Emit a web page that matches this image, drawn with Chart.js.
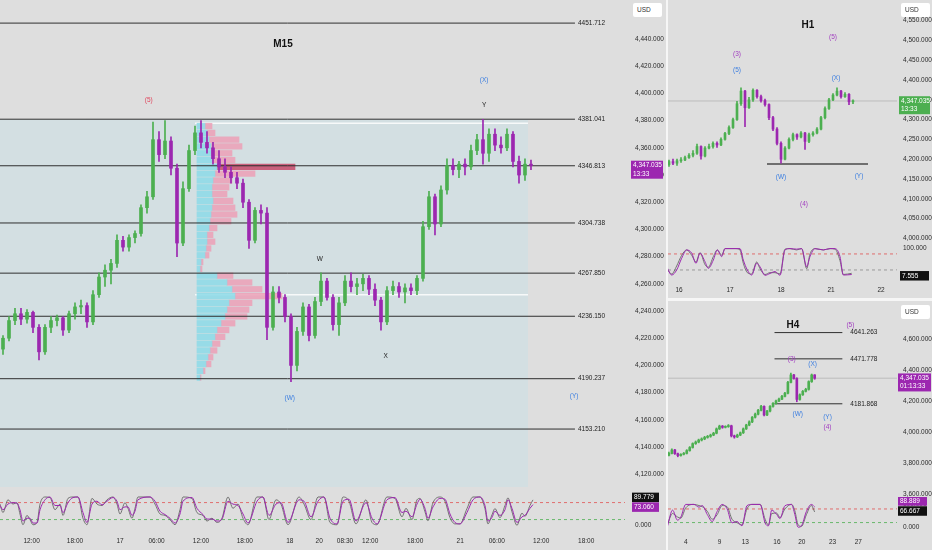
<!DOCTYPE html>
<html>
<head>
<meta charset="utf-8">
<title>XAUUSD M15 / H1 / H4</title>
<script src="https://cdn.jsdelivr.net/npm/chart.js@4.4.1/dist/chart.umd.min.js"></script>
<style>
  html, body { margin: 0; padding: 0; }
  body { width: 932px; height: 550px; background: #f6f6f6; position: relative; overflow: hidden;
         font-family: "Liberation Sans", Arial, sans-serif; }
  .panel { position: absolute; background: #dedede; }
  .chart { position: absolute; }
  .usd { position: absolute; width: 29px; height: 14px; line-height: 14px; background: #fff;
         border-radius: 2px; font-size: 6.5px; color: #333; padding-left: 4px; box-sizing: border-box; }
  .title { position: absolute; font-size: 10px; font-weight: bold; color: #111; transform: translate(-50%, -50%); }
</style>
</head>
<body>
<div class="panel" style="left:0;top:0;width:666px;height:550px"></div>
<div class="panel" style="left:668px;top:0;width:264px;height:298px"></div>
<div class="panel" style="left:668px;top:301px;width:264px;height:249px"></div>

<div class="chart" style="left:0;top:0;width:667px;height:487px"><canvas id="m15Price"></canvas></div>
<div class="chart" style="left:0;top:487px;width:667px;height:63px"><canvas id="m15Stoch"></canvas></div>
<div class="chart" style="left:668px;top:0;width:264px;height:243px"><canvas id="h1Price"></canvas></div>
<div class="chart" style="left:668px;top:243px;width:264px;height:55px"><canvas id="h1Stoch"></canvas></div>
<div class="chart" style="left:668px;top:301px;width:264px;height:196px"><canvas id="h4Price"></canvas></div>
<div class="chart" style="left:668px;top:497px;width:264px;height:53px"><canvas id="h4Stoch"></canvas></div>

<div class="title" style="left:283px;top:43px">M15</div>
<div class="title" style="left:808px;top:24px">H1</div>
<div class="title" style="left:793px;top:324px">H4</div>
<div class="usd" style="left:633px;top:3px">USD</div>
<div class="usd" style="left:901px;top:3px">USD</div>
<div class="usd" style="left:901px;top:305px">USD</div>

<script>
// ---------- M15 (main) ----------
const m15Open  = [4212,4220,4233,4238,4234,4239,4228,4210,4228,4233,4235,4226,4238,4243,4244,4232,4252,4265,4270,4275,4292,4287,4294,4297,4316,4324,4366,4355,4365,4345,4290,4330,4358,4371,4364,4360,4352,4346,4342,4338,4334,4320,4292,4314,4312,4228,4254,4250,4236,4200,4225,4243,4222,4247,4262,4250,4230,4246,4262,4258,4260,4264,4256,4248,4232,4255,4258,4254,4257,4255,4264,4302,4324,4304,4329,4347,4344,4348,4346,4358,4366,4356,4370,4362,4360,4370,4350,4340,4348];
const m15High  = [4222,4236,4242,4242,4241,4240,4230,4230,4236,4237,4236,4240,4246,4248,4246,4255,4268,4274,4278,4296,4295,4296,4299,4318,4328,4379,4372,4380,4368,4348,4335,4362,4376,4380,4372,4364,4358,4352,4346,4342,4337,4322,4316,4318,4316,4258,4258,4252,4238,4228,4246,4245,4250,4268,4264,4252,4250,4266,4268,4264,4267,4266,4260,4250,4258,4262,4261,4260,4260,4266,4306,4328,4326,4332,4352,4352,4350,4352,4362,4370,4381,4374,4374,4368,4374,4372,4354,4352,4351];
const m15Low   = [4208,4218,4230,4230,4231,4224,4204,4208,4224,4229,4222,4224,4234,4238,4228,4230,4250,4258,4260,4272,4284,4284,4290,4295,4312,4322,4350,4352,4340,4280,4288,4328,4355,4360,4356,4348,4342,4338,4334,4330,4316,4286,4290,4304,4219,4226,4246,4232,4188,4196,4222,4218,4220,4244,4248,4226,4222,4244,4254,4252,4255,4252,4244,4226,4230,4252,4250,4246,4252,4252,4262,4300,4296,4302,4326,4340,4338,4340,4344,4355,4348,4350,4358,4356,4358,4346,4334,4336,4344];
const m15Close = [4220,4233,4238,4234,4239,4228,4210,4228,4233,4235,4226,4238,4243,4244,4232,4252,4265,4270,4275,4292,4287,4294,4297,4316,4324,4366,4355,4365,4345,4290,4330,4358,4371,4364,4360,4352,4346,4342,4338,4334,4320,4292,4314,4312,4228,4254,4250,4236,4200,4225,4243,4222,4247,4262,4250,4230,4246,4262,4258,4260,4264,4256,4248,4232,4255,4258,4254,4257,4255,4264,4302,4324,4304,4329,4347,4344,4348,4346,4358,4366,4356,4370,4362,4360,4370,4350,4340,4348,4347];

const m15Levels = [4451.712, 4381.041, 4346.813, 4304.738, 4267.850, 4236.150, 4190.237, 4153.210];
const m15PriceTicks = [4120,4140,4160,4180,4200,4220,4240,4260,4280,4300,4320,4340,4360,4380,4400,4420,4440];
const m15TimeIdx = [4.77,12,19.5,25.6,33,40.3,47.8,52.7,57,61.2,68.7,76.2,82.3,89.7,97.2];
const m15TimeLabels = ['12:00','18:00','17','06:00','12:00','18:00','18','20','08:30','12:00','18:00','21','06:00','12:00','18:00'];

// range box and its volume profile
const rangeStart = -0.5, rangeEnd = 87.5, rangeTop = 4381.041;
const vaStart = 32, vaHigh = 4378, vaLow = 4252;
const vpPrice = [4376,4371,4366,4361,4356,4351,4346,4341,4336,4331,4326,4321,4316,4311,4306,4301,4296,4291,4286,4281,4276,4271,4266,4261,4256,4251,4246,4241,4236,4231,4226,4221,4216,4211,4206,4201,4196,4191];
const vpUp   = [8,10,12,14,14,15,20,18,16,15,15,16,15,14,13,12,10,10,9,8,4,3,20,30,35,38,32,30,28,24,20,18,15,13,11,9,6,3];
const vpDown = [7,8,30,31,21,23,78,40,19,17,15,20,23,26,21,8,6,8,5,4,2,2,16,25,30,47,23,22,22,14,12,10,8,7,5,5,2,1];

const m15WaveText  = ['(5)','(X)','Y','W','X','(W)','(Y)'];
const m15WaveIdx   = [24.3,80.2,80.2,52.8,63.8,47.8,95.2];
const m15WavePrice = [4395,4410,4391,4278,4207,4176,4177];
const m15WaveDeg   = ['cycle','intermediate','minor','minor','minor','intermediate','intermediate'];

const m15StochIdx = [-0.5,0,0.83,1.67,2.33,2.83,3.33,4,4.5,5,5.67,6.17,7,7.83,8.67,9.5,10,10.83,11.67,12.5,13.33,14,14.83,15.67,16.5,17.33,18.33,19,19.5,20.33,20.83,21.5,22,22.5,24.5,25.33,26.17,27,27.83,28.67,29.5,30,31.5,32.33,33.33,34,34.83,35.67,36.5,37.5,38.33,39.17,40,40.83,42.33,43.33,44.33,45.5,46.33,47.5,49.33,50.17,51.33,52.5,53.5,54.5,55.67,56.67,57.67,58.83,60.5,61.5,62.33,64,65.33,66.5,67.17,68.17,69,69.5,70.33,70.83,71.67,72.83,73.67,74.5,75.33,76.17,77.33,78.33,79.5,80.33,80.83,81.5,82,82.83,83.67,84.17,84.83,85.67,86.5,87,87.83,88.33];
const m15StochK = [75,45,90,75,80,40,2,35,20,2, 10,75,100,98,55,75,35,95,100,100, 25,2,95,75,70,90,100,75,40,80, 60,25,60,100,100,75,40,35,20,2, 55,100,95,45,35,15,25,10,25,100, 60,75,25,2,100,100,20,90,75,2, 100,75,20,100,100,10,2,100,85,5, 90,10,2,100,95,30,60,20,90,95, 48,16,80,100,85,27,5,5,59,100, 100,59,5,37,59,27,70,97,48,0, 43,32,70,89.779];
const m15StochD = [70,55,75,80,78,55,15,25,25,8, 8,55,90,100,70,70,45,80,98,100, 45,10,75,85,72,85,98,85,55,65, 65,35,50,90,100,85,50,38,25,8, 40,85,98,60,38,22,22,15,22,85, 75,70,40,8,85,100,35,75,80,10, 90,85,30,85,100,25,5,85,92,15, 80,25,5,90,98,45,50,30,75,92, 60,25,65,95,92,40,10,5,45,90, 100,70,15,28,50,35,55,90,60,10, 30,35,60,73.06];

// ---------- H1 ----------
const h1Open  = [4186,4194,4190,4196,4198,4204,4210,4215,4232,4208,4228,4232,4240,4236,4250,4265,4280,4300,4340,4372,4330,4350,4374,4358,4348,4338,4305,4276,4240,4200,4228,4250,4262,4256,4266,4245,4262,4266,4276,4305,4328,4350,4362,4372,4358,4364,4345];
const h1High  = [4198,4200,4200,4204,4208,4214,4222,4238,4234,4232,4238,4244,4244,4254,4268,4284,4304,4346,4380,4374,4356,4378,4376,4362,4352,4340,4308,4280,4244,4232,4254,4266,4264,4270,4268,4266,4270,4280,4308,4332,4354,4366,4380,4374,4368,4366,4350];
const h1Low   = [4182,4186,4184,4192,4196,4202,4206,4212,4200,4206,4226,4228,4230,4234,4248,4262,4278,4298,4336,4282,4328,4346,4354,4344,4334,4300,4272,4236,4190,4198,4226,4246,4250,4254,4225,4242,4258,4264,4274,4302,4326,4348,4360,4354,4356,4338,4340];
const h1Close = [4194,4190,4196,4198,4204,4210,4215,4232,4208,4228,4232,4240,4236,4250,4265,4280,4300,4340,4372,4330,4350,4374,4358,4348,4338,4305,4276,4240,4200,4228,4250,4262,4256,4266,4245,4262,4266,4276,4305,4328,4350,4362,4372,4358,4364,4345,4347];
const h1PriceTicks = [4000,4050,4100,4150,4200,4250,4300,4350,4400,4450,4500,4550];
const h1TimeIdx = [2.5,15.25,28,40.5,53];
const h1TimeLabels = ['16','17','18','21','22'];
const h1Support = 4188, h1SupportFrom = 24.5, h1SupportTo = 49.75;
const h1WaveText  = ['(3)','(5)','(5)','(X)','(W)','(Y)','(4)'];
const h1WaveIdx   = [17,17,41,41.75,28,47.5,33.75];
const h1WavePrice = [4466,4425,4509,4405,4155,4158,4087];
const h1WaveDeg   = ['primary','intermediate','primary','intermediate','intermediate','intermediate','primary'];
const h1StochIdx = [-0.58,0.67,1.92,3.17,4.42,5.67,6.75,7.75,9,9.83,11.08,12.08,13.17,14,15.25,16.5,17.75,18.58,19.58,20.67,21.92,22.75,24,25.25,26.5,27.75,29,30.25,31.92,33.17,34.42,35.25,36.5,38.58,40.25,41.5,42.75,43.58,45.67];
const h1StochK = [25,5,35,75,95,75,50,85,40,30,70,95,75,100,100,100,95,45,10,5,50,25,3,10,10,5,98,100,95,100,25,80,100,95,100,98,55,3,7.555];
const h1StochD = [32,1,20,64,95,83,45,83,51,26,57,95,70,100,100,100,100,57,20,1,45,32,0,7,14,0,95,100,98,100,32,70,100,95,100,100,70,1,3];

// ---------- H4 ----------
const h4Open  = [3850,3862,3884,3860,3848,3856,3862,3880,3900,3925,3935,3948,3955,3965,3972,3980,3992,4020,4038,4030,4035,4040,3975,3968,3980,3995,4020,4045,4065,4095,4115,4140,4165,4110,4135,4165,4185,4200,4212,4230,4250,4320,4368,4345,4210,4240,4262,4275,4325,4368];
const h4High  = [3870,3892,3888,3864,3860,3868,3886,3906,3930,3942,3954,3962,3972,3978,3986,3998,4026,4044,4042,4040,4048,4044,3980,3986,4000,4026,4050,4072,4100,4122,4146,4172,4168,4140,4170,4190,4206,4218,4236,4256,4326,4380,4372,4350,4246,4268,4282,4330,4374,4370];
const h4Low   = [3845,3858,3855,3840,3844,3852,3858,3876,3896,3920,3930,3942,3950,3960,3966,3976,3988,4016,4024,4026,4030,3968,3960,3964,3976,3990,4016,4040,4060,4090,4110,4136,4104,4106,4130,4160,4180,4196,4208,4226,4246,4316,4340,4195,4205,4236,4258,4270,4320,4340];
const h4Close = [3862,3884,3860,3848,3856,3862,3880,3900,3925,3935,3948,3955,3965,3972,3980,3992,4020,4038,4030,4035,4040,3975,3968,3980,3995,4020,4045,4065,4095,4115,4140,4165,4110,4135,4165,4185,4200,4212,4230,4250,4320,4368,4345,4210,4240,4262,4275,4325,4368,4347];
const h4Levels = [4641.263, 4471.778, 4181.868];
const h4LevelFrom = 35.5, h4LevelTo = 58.3;
const h4PriceTicks = [3600,3800,4000,4200,4400,4600];
const h4TimeIdx = [5.67,17,25.67,36.33,44.67,55,63.67];
const h4TimeLabels = ['4','9','13','16','20','23','27'];
const h4WaveText  = ['(5)','(3)','(X)','(W)','(Y)','(4)'];
const h4WaveIdx   = [61,41.3,48.3,43.3,53.3,53.3];
const h4WavePrice = [4690,4471,4439,4116,4097,4032];
const h4WaveDeg   = ['primary','primary','intermediate','intermediate','intermediate','primary'];
const h4StochIdx = [-0.44,1.22,2.89,4,5.67,8.44,10.11,11.22,12.89,14.56,16.22,17.89,19.56,21.22,22.89,24.56,26.22,27.89,30.67,32.33,33.44,34.56,36.22,37.33,39,41.22,42.33,43.44,44.56,46.22,47.89,49];
const h4StochK = [15,60,45,40,85,100,95,90,70,35,55,95,90,35,20,10,80,100,100,35,10,60,62,42,80,100,72,10,4,55,95,66.667];
const h4StochD = [6,75,31,44,100,100,88,95,56,25,69,100,81,19,25,6,94,100,100,19,6,75,56,38,94,100,56,0,6,69,100,88.889];

const lastPrice = 4347.035;
const m15Countdown = '13:33', h1Countdown = '13:33', h4Countdown = '01:13:33';

// ---------- styling ----------
const UP = '#4caf50', DOWN = '#9c27b0', PURPLE = '#9c27b0';
const degColor = { cycle: '#e0485e', primary: '#a23fc0', intermediate: '#3d7fe0', minor: '#222' };
const FONT = '"Liberation Sans", Arial, sans-serif';

Chart.defaults.font.family = FONT;
Chart.defaults.font.size = 6.5;
Chart.defaults.color = '#2a2a2a';
Chart.defaults.animation = false;
Chart.defaults.events = [];
Chart.defaults.plugins.legend.display = false;
Chart.defaults.plugins.tooltip.enabled = false;

const fmt3 = v => v.toLocaleString('en-US', { minimumFractionDigits: 3, maximumFractionDigits: 3 });

function valueAxis(min, max, ticks, width, pad) {
  return {
    type: 'linear', position: 'right', min, max, offset: false,
    grid: { display: false, drawTicks: false }, border: { display: false },
    afterBuildTicks: s => { s.ticks = ticks.map(v => ({ value: v })); },
    afterFit: s => { s.width = width; s.paddingTop = 0; s.paddingBottom = 0; },
    ticks: { padding: pad, callback: v => fmt3(v) }
  };
}

function timeAxis(min, max, idx, labels, height, pad) {
  return {
    type: 'linear', min, max, offset: false, display: !!height,
    grid: { display: false, drawTicks: false }, border: { display: false },
    afterBuildTicks: s => { s.ticks = idx.map(v => ({ value: v })); },
    afterFit: s => { if (height) s.height = height; s.paddingLeft = 0; s.paddingRight = 0; },
    ticks: { padding: pad || 0, maxRotation: 0, autoSkip: false, callback: (v, i) => labels[i] }
  };
}

function candles(open, high, low, close, body) {
  const col = close.map((c, i) => c >= open[i] ? UP : DOWN);
  return [
    { type: 'bar', data: close.map((c, i) => ({ x: i, y: [low[i], high[i]] })),
      backgroundColor: col, barThickness: 1, grouped: false, order: 2 },
    { type: 'bar', data: close.map((c, i) => ({ x: i, y: [open[i], c] })),
      backgroundColor: col, barThickness: body, minBarLength: 1, grouped: false, order: 1 }
  ];
}

function hLine(value, from, to, color, width, dash, order) {
  return { type: 'line', data: [{ x: from, y: value }, { x: to, y: value }],
    borderColor: color, borderWidth: width, borderDash: dash || [], pointRadius: 0, fill: false, order };
}

function stochLine(idx, vals, color, width, order) {
  return { type: 'line', data: idx.map((x, i) => ({ x, y: vals[i] })), borderColor: color,
    borderWidth: width, pointRadius: 0, fill: false, cubicInterpolationMode: 'monotone', order };
}

function notesPlugin(items) {
  return {
    id: 'notes',
    afterDatasetsDraw(chart) {
      const { ctx, scales } = chart;
      ctx.save();
      ctx.textBaseline = 'middle';
      items.forEach(n => {
        ctx.font = (n.size || 6.5) + 'px ' + FONT;
        ctx.fillStyle = n.color;
        ctx.textAlign = n.align || 'center';
        ctx.fillText(n.text, scales.x.getPixelForValue(n.x) + (n.dx || 0), scales.y.getPixelForValue(n.y));
      });
      ctx.restore();
    }
  };
}

function tagsPlugin(items) {
  return {
    id: 'tags',
    afterDraw(chart) {
      const { ctx, chartArea, scales } = chart;
      ctx.save();
      ctx.font = '6.5px ' + FONT;
      ctx.textBaseline = 'middle';
      ctx.textAlign = 'left';
      items.forEach(t => {
        const py = scales.y.getPixelForValue(t.value) + (t.dy || 0);
        const lh = 8.5;
        const h = t.lines.length * lh + 1;
        const top = t.lines.length > 1 ? py - lh / 2 - 0.5 : py - h / 2;
        const left = chartArea.right + t.dx;
        ctx.fillStyle = t.bg;
        ctx.fillRect(left, top, t.w, h);
        ctx.fillStyle = '#fff';
        t.lines.forEach((s, i) => ctx.fillText(s, left + 2, top + 0.5 + lh / 2 + i * lh));
      });
      ctx.restore();
    }
  };
}

function waveNotes(text, idx, price, deg) {
  return text.map((t, i) => ({ text: t, x: idx[i], y: price[i], color: degColor[deg[i]] }));
}

// ---------- M15 price ----------
const M15_MIN = -0.5, M15_MAX = 103.67, M15_LEVEL_END = 95.33;
const VP_LEFT = 197, M15_PLOT_W = 625;
const pocIndex = vpUp.map((u, i) => u + vpDown[i]).reduce((b, v, i, a) => v > a[b] ? i : b, 0);

new Chart(document.getElementById('m15Price'), {
  type: 'bar',
  data: {
    datasets: [
      { type: 'line', data: [{ x: rangeStart, y: rangeTop }, { x: rangeEnd, y: rangeTop }],
        borderWidth: 0, pointRadius: 0, fill: 'start', backgroundColor: '#d3dfe2', order: 30 },
      hLine(vaHigh, vaStart, rangeEnd, '#f7f9f9', 1.5, null, 25),
      hLine(vaLow, vaStart, rangeEnd, '#f7f9f9', 1.5, null, 25),
      { type: 'bar', indexAxis: 'y', xAxisID: 'xVol', yAxisID: 'y',
        data: vpPrice.map((p, i) => ({ y: p, x: [0, vpUp[i]] })),
        backgroundColor: 'rgba(140,218,232,0.85)', barThickness: 5.6, grouped: false, order: 20 },
      { type: 'bar', indexAxis: 'y', xAxisID: 'xVol', yAxisID: 'y',
        data: vpPrice.map((p, i) => ({ y: p, x: [vpUp[i], vpUp[i] + vpDown[i]] })),
        backgroundColor: vpPrice.map((p, i) => i === pocIndex ? '#c9607c' : 'rgba(236,160,182,0.85)'),
        barThickness: 5.6, grouped: false, order: 20 },
      ...m15Levels.map(v => hLine(v, M15_MIN, M15_LEVEL_END, '#2f2f2f', 1, null, 10)),
      ...candles(m15Open, m15High, m15Low, m15Close, 3)
    ]
  },
  options: {
    responsive: true, maintainAspectRatio: false,
    scales: {
      x: timeAxis(M15_MIN, M15_MAX, m15TimeIdx, m15TimeLabels, 0),
      xVol: { type: 'linear', axis: 'x', position: 'top', display: false, offset: false,
              min: -VP_LEFT, max: M15_PLOT_W - VP_LEFT },
      y: valueAxis(4110.6, 4468.7, m15PriceTicks, 42, 10)
    }
  },
  plugins: [
    notesPlugin([
      ...waveNotes(m15WaveText, m15WaveIdx, m15WavePrice, m15WaveDeg),
      ...m15Levels.map(v => ({ text: v.toFixed(3), x: M15_LEVEL_END, dx: 3, y: v, align: 'left', color: '#222' }))
    ]),
    tagsPlugin([{ value: lastPrice, lines: [fmt3(lastPrice), m15Countdown], bg: PURPLE, dx: 6, w: 32 }])
  ]
});

// ---------- M15 stochastic ----------
new Chart(document.getElementById('m15Stoch'), {
  type: 'line',
  data: {
    datasets: [
      hLine(80, M15_MIN, M15_MAX, '#e05252', 0.8, [3, 3], 5),
      hLine(20, M15_MIN, M15_MAX, '#4caf50', 0.8, [3, 3], 5),
      stochLine(m15StochIdx, m15StochK, '#666', 0.9, 2),
      stochLine(m15StochIdx, m15StochD, PURPLE, 1, 1)
    ]
  },
  options: {
    responsive: true, maintainAspectRatio: false,
    scales: {
      x: timeAxis(M15_MIN, M15_MAX, m15TimeIdx, m15TimeLabels, 19, 6),
      y: valueAxis(-20.1, 135.3, [0, 100], 42, 10)
    }
  },
  plugins: [tagsPlugin([
    { value: m15StochK[m15StochK.length - 1], lines: [fmt3(m15StochK[m15StochK.length - 1])], bg: '#111', dx: 7, w: 27, dy: -2.5 },
    { value: m15StochD[m15StochD.length - 1], lines: [fmt3(m15StochD[m15StochD.length - 1])], bg: PURPLE, dx: 7, w: 27, dy: 2.5 }
  ])]
});

// ---------- H1 price ----------
const H1_MIN = -0.25, H1_MAX = 57;
new Chart(document.getElementById('h1Price'), {
  type: 'bar',
  data: {
    datasets: [
      hLine(lastPrice, H1_MIN, H1_MAX, '#b4b4b4', 0.8, null, 12),
      hLine(h1Support, h1SupportFrom, h1SupportTo, '#4a4a4a', 1.6, null, 10),
      ...candles(h1Open, h1High, h1Low, h1Close, 2)
    ]
  },
  options: {
    responsive: true, maintainAspectRatio: false,
    scales: {
      x: timeAxis(H1_MIN, H1_MAX, h1TimeIdx, h1TimeLabels, 0),
      y: valueAxis(3988.4, 4602, h1PriceTicks, 35, 6)
    }
  },
  plugins: [
    notesPlugin(waveNotes(h1WaveText, h1WaveIdx, h1WavePrice, h1WaveDeg)),
    tagsPlugin([{ value: lastPrice, lines: [fmt3(lastPrice), h1Countdown], bg: '#4caf50', dx: 2, w: 31 }])
  ]
});

// ---------- H1 stochastic ----------
new Chart(document.getElementById('h1Stoch'), {
  type: 'line',
  data: {
    datasets: [
      hLine(80, H1_MIN, H1_MAX, '#e05252', 0.8, [3, 3], 5),
      hLine(20, H1_MIN, H1_MAX, '#8a8a8a', 0.8, [3, 3], 5),
      stochLine(h1StochIdx, h1StochK, '#666', 0.9, 2),
      stochLine(h1StochIdx, h1StochD, PURPLE, 1, 1)
    ]
  },
  options: {
    responsive: true, maintainAspectRatio: false,
    scales: {
      x: timeAxis(H1_MIN, H1_MAX, h1TimeIdx, h1TimeLabels, 17, 5.5),
      y: valueAxis(-21.3, 121, [0, 100], 35, 6)
    }
  },
  plugins: [tagsPlugin([
    { value: h1StochK[h1StochK.length - 1], lines: [fmt3(h1StochK[h1StochK.length - 1])], bg: '#111', dx: 3, w: 29, dy: 2.5 }
  ])]
});

// ---------- H4 price ----------
const H4_MIN = -0.3, H4_MAX = 76.67;
new Chart(document.getElementById('h4Price'), {
  type: 'bar',
  data: {
    datasets: [
      hLine(lastPrice, H4_MIN, H4_MAX, '#b4b4b4', 0.8, null, 12),
      ...h4Levels.map(v => hLine(v, h4LevelFrom, h4LevelTo, '#2f2f2f', 1, null, 10)),
      ...candles(h4Open, h4High, h4Low, h4Close, 2)
    ]
  },
  options: {
    responsive: true, maintainAspectRatio: false,
    scales: {
      x: timeAxis(H4_MIN, H4_MAX, h4TimeIdx, h4TimeLabels, 0),
      y: valueAxis(3580.6, 4845, h4PriceTicks, 35, 6)
    }
  },
  plugins: [
    notesPlugin([
      ...waveNotes(h4WaveText, h4WaveIdx, h4WavePrice, h4WaveDeg),
      ...h4Levels.map(v => ({ text: v.toFixed(3), x: h4LevelTo, dx: 8, y: v, align: 'left', color: '#222' }))
    ]),
    tagsPlugin([{ value: lastPrice, lines: [fmt3(lastPrice), h4Countdown], bg: PURPLE, dx: 1, w: 33 }])
  ]
});

// ---------- H4 stochastic ----------
new Chart(document.getElementById('h4Stoch'), {
  type: 'line',
  data: {
    datasets: [
      hLine(80, H4_MIN, H4_MAX, '#e05252', 0.8, [3, 3], 5),
      hLine(20, H4_MIN, H4_MAX, '#4caf50', 0.8, [3, 3], 5),
      stochLine(h4StochIdx, h4StochK, '#666', 0.9, 2),
      stochLine(h4StochIdx, h4StochD, PURPLE, 1, 1)
    ]
  },
  options: {
    responsive: true, maintainAspectRatio: false,
    scales: {
      x: timeAxis(H4_MIN, H4_MAX, h4TimeIdx, h4TimeLabels, 18, 6),
      y: valueAxis(-21, 132.5, [0, 100], 35, 6)
    }
  },
  plugins: [tagsPlugin([
    { value: h4StochD[h4StochD.length - 1], lines: [fmt3(h4StochD[h4StochD.length - 1])], bg: PURPLE, dx: 1, w: 29, dy: -6 },
    { value: h4StochK[h4StochK.length - 1], lines: [fmt3(h4StochK[h4StochK.length - 1])], bg: '#111', dx: 1, w: 29, dy: -1 }
  ])]
});
</script>
</body>
</html>
